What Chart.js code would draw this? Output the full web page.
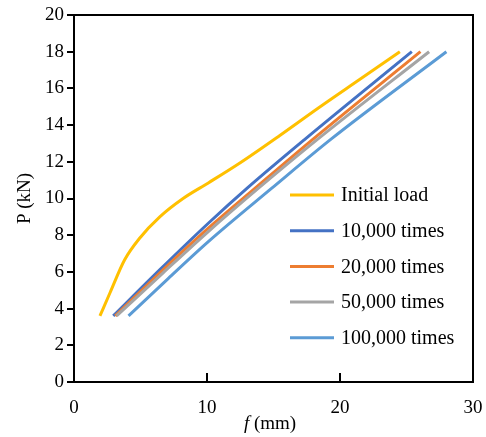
<!DOCTYPE html>
<html>
<head>
<meta charset="utf-8">
<script src="https://cdn.jsdelivr.net/npm/chart.js@4.4.0/dist/chart.umd.min.js"></script>
<style>
  html, body { margin: 0; padding: 0; background: #fff; }
</style>
</head>
<body>
<canvas id="myChart" width="486" height="437"></canvas>
<script>
// Series labels and colours
const seriesLabels = ["Initial load", "10,000 times", "20,000 times", "50,000 times", "100,000 times"];
const seriesColors = ["#FFC000", "#4472C4", "#ED7D31", "#A5A5A5", "#5B9BD5"];

// Deflection f (mm) and load P (kN)
const initialF = [1.95, 2.7, 3.8, 4.95, 6.45, 8.2, 10.1, 12.5, 15.5, 18.4, 21.5, 24.5];
const initialP = [3.6, 4.85, 6.65, 7.85, 9.0, 10.0, 10.85, 11.95, 13.45, 14.95, 16.5, 18.0];

const f10k = [2.95, 6.5, 10.1, 13.0, 17.4, 25.4];
const p10k = [3.6, 6.15, 8.65, 10.55, 13.25, 18.0];

const f20k = [3.1, 6.6, 10.1, 13.6, 18.0, 26.05];
const p20k = [3.6, 6.05, 8.38, 10.55, 13.25, 18.0];

const f50k = [3.2, 6.7, 10.1, 13.85, 18.35, 26.7];
const p50k = [3.6, 5.95, 8.2, 10.55, 13.25, 18.0];

const f100k = [4.1, 7.1, 10.1, 14.85, 19.35, 28.0];
const p100k = [3.6, 5.65, 7.65, 10.55, 13.25, 18.0];

const seriesF = [initialF, f10k, f20k, f50k, f100k];
const seriesP = [initialP, p10k, p20k, p50k, p100k];

// Axis tick settings
const xTicks = [0, 10, 20, 30];
const yMax = 20, yStep = 2;

const FONT = "'Liberation Serif', 'Times New Roman', serif";
const fontSize = 19;
const legendSize = 20;

// frame, inner x ticks, x title and legend
const extras = {
  id: "extras",
  afterDraw(chart) {
    const { ctx, chartArea: a, scales } = chart;
    ctx.save();
    ctx.strokeStyle = "#000";
    ctx.lineWidth = 2;
    ctx.strokeRect(a.left, a.top, a.right - a.left, a.bottom - a.top);
    // x ticks pointing inward
    xTicks.slice(1, -1).forEach(v => {
      const px = Math.round(scales.x.getPixelForValue(v));
      ctx.beginPath();
      ctx.moveTo(px, a.bottom);
      ctx.lineTo(px, a.bottom - 9);
      ctx.stroke();
    });
    // x title: italic f + (mm)
    ctx.fillStyle = "#000";
    ctx.textBaseline = "middle";
    const fPart = "f";
    const rest = " (mm)";
    ctx.font = "italic " + fontSize + "px " + FONT;
    const w1 = ctx.measureText(fPart).width;
    ctx.font = fontSize + "px " + FONT;
    const w2 = ctx.measureText(rest).width;
    const x0 = 270 - (w1 + w2) / 2;
    ctx.font = "italic " + fontSize + "px " + FONT;
    ctx.fillText(fPart, x0, 424);
    ctx.font = fontSize + "px " + FONT;
    ctx.fillText(rest, x0 + w1, 424);
    // legend
    ctx.font = legendSize + "px " + FONT;
    chart.data.datasets.forEach((ds, i) => {
      const y = 195 + i * 35.7;
      ctx.strokeStyle = ds.borderColor;
      ctx.lineWidth = 3;
      ctx.beginPath();
      ctx.moveTo(290, y);
      ctx.lineTo(334, y);
      ctx.stroke();
      ctx.fillStyle = "#000";
      ctx.fillText(ds.label, 341, y + 1);
    });
    ctx.restore();
  }
};

const ctx = document.getElementById("myChart").getContext("2d");

const myChart = new Chart(ctx, {
  type: "scatter",
  data: {
    datasets: seriesLabels.map((label, i) => ({
      label: label,
      data: seriesF[i].map((f, j) => ({ x: f, y: seriesP[i][j] })),
      borderColor: seriesColors[i],
      backgroundColor: seriesColors[i],
      showLine: true,
      borderWidth: 3,
      pointRadius: 0,
      cubicInterpolationMode: "monotone",
      order: seriesLabels.length - i,
    })),
  },
  plugins: [extras],
  options: {
    responsive: false,
    animation: false,
    layout: { padding: { left: 0, top: 15, right: 0, bottom: 0 } },
    plugins: {
      legend: { display: false },
      tooltip: { enabled: false },
    },
    scales: {
      x: {
        type: "linear",
        min: xTicks[0],
        max: xTicks[xTicks.length - 1],
        afterBuildTicks: s => { s.ticks = xTicks.map(v => ({ value: v })); },
        afterFit: s => { s.height = 55; s.paddingRight = 13; },
        ticks: { color: "#000", font: { family: FONT, size: fontSize }, padding: 15 },
        grid: { display: false, drawTicks: false },
        border: { color: "#000", width: 2 },
      },
      y: {
        min: 0,
        max: yMax,
        afterFit: s => { s.width = 74; },
        ticks: { stepSize: yStep, color: "#000", font: { family: FONT, size: fontSize }, padding: 3 },
        grid: { drawOnChartArea: false, color: "#000", lineWidth: 2, tickLength: 7 },
        border: { color: "#000", width: 2 },
        title: {
          display: true,
          text: "P (kN)",
          color: "#000",
          font: { family: FONT, size: fontSize },
          padding: { top: 14, bottom: 0 },
        },
      },
    },
  },
});
</script>
</body>
</html>
